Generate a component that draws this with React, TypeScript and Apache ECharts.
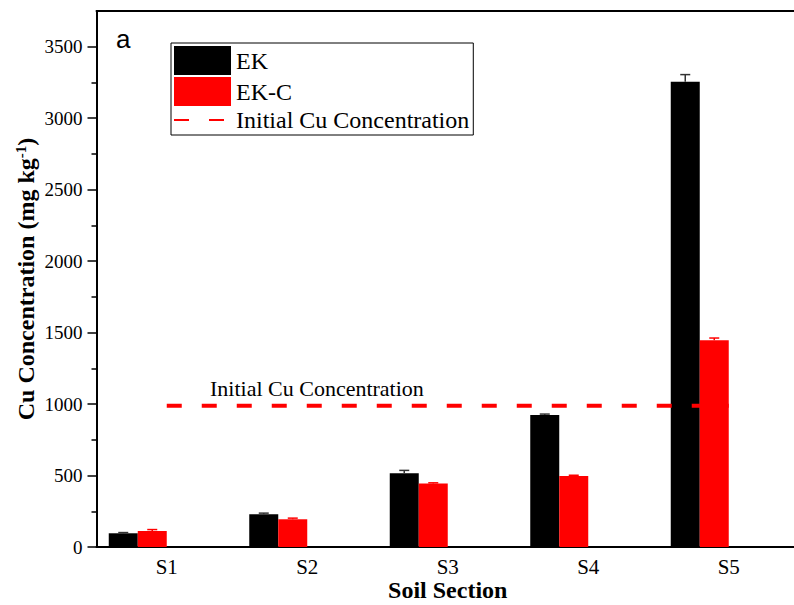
import React, { useEffect, useRef } from 'react';
import * as echarts from 'echarts';

const categories = ['S1', 'S2', 'S3', 'S4', 'S5'];
const ekValues = [96, 229, 516, 924, 3255];
const ekErrors = [5, 8, 20, 6, 50];
const ekcValues = [112, 194, 444, 497, 1447];
const ekcErrors = [10, 8, 5, 5, 15];
const initialConc = [988, 988, 988, 988, 988];
const yMaxFrame = 3750;
const yMaxTicks = 3500;
const yInterval = 500;

const BAR_W = 29;
const SERIF = '"Liberation Serif", "Times New Roman", serif';

function errorSeries(name: string, values: number[], errors: number[], offsetMul: number, color: string) {
  return {
    type: 'custom',
    name,
    silent: true,
    z: 3,
    xAxisIndex: 0,
    yAxisIndex: 0,
    encode: { x: 0, y: 1 },
    renderItem: (params: any, api: any) => {
      const idx = api.value(0);
      const val = api.value(1);
      const err = api.value(2);
      const top = api.coord([idx, val + err]);
      const base = api.coord([idx, val]);
      const x = top[0] + offsetMul * BAR_W;
      return {
        type: 'group',
        children: [
          { type: 'line', shape: { x1: x, y1: base[1], x2: x, y2: top[1] }, style: { stroke: color, lineWidth: 1.5 } },
          { type: 'line', shape: { x1: x - 5, y1: top[1], x2: x + 5, y2: top[1] }, style: { stroke: color, lineWidth: 1.5 } },
        ],
      };
    },
    data: values.map((v, i) => [i, v, errors[i]]),
  };
}

export default function App() {
  const ref = useRef<HTMLDivElement>(null);
  useEffect(() => {
    document.body.style.margin = '0';
    const chart = echarts.init(ref.current!, null, { renderer: 'svg' });
    const gridBottom = 58;
    const gridTop = 11;
    const plotH = 605 - gridTop - gridBottom;
    const tickGridTop = gridTop + plotH * (1 - yMaxTicks / yMaxFrame);
    const option: any = {
      animation: false,
      grid: [
        { left: 96.5, right: -5, top: gridTop, bottom: gridBottom, containLabel: false, outerBoundsMode: 'none' },
        { left: 96.5, right: -5, top: tickGridTop, bottom: gridBottom, containLabel: false, outerBoundsMode: 'none' },
      ],
      legend: {
        orient: 'vertical',
        left: 171,
        top: 43,
        padding: [3, 4, 3, 2],
        itemGap: 2,
        itemWidth: 57,
        itemHeight: 29,
        borderColor: '#000',
        borderWidth: 1,
        selectedMode: false,
        textStyle: { fontSize: 24, fontFamily: SERIF, color: '#000' },
        data: [
          { name: 'EK', icon: 'rect' },
          { name: 'EK-C', icon: 'rect' },
          { name: 'Initial Cu Concentration', itemStyle: { opacity: 0, color: 'transparent', borderWidth: 0 } },
        ],
      },
      xAxis: [
        {
          type: 'category',
          gridIndex: 0,
          data: categories,
          position: 'bottom',
          axisLine: { lineStyle: { color: '#000', width: 2 } },
          axisTick: { length: 5, lineStyle: { color: '#000', width: 1.5 } },
          axisLabel: { color: '#000', fontSize: 21, fontFamily: SERIF, margin: 9 },
          name: 'Soil Section',
          nameLocation: 'middle',
          nameGap: 31,
          nameMoveOverlap: false,
          nameTextStyle: { fontSize: 24, lineHeight: 24, fontWeight: 'bold', fontFamily: SERIF, color: '#000' },
        },
        {
          type: 'category',
          gridIndex: 0,
          data: categories,
          position: 'top',
          axisLine: { lineStyle: { color: '#000', width: 2 } },
          axisTick: { show: false },
          axisLabel: { show: false },
        },
        {
          type: 'category',
          gridIndex: 1,
          data: categories,
          show: false,
        },
      ],
      yAxis: [
        {
          type: 'value',
          gridIndex: 0,
          min: 0,
          max: yMaxFrame,
          axisLine: { show: true, lineStyle: { color: '#000', width: 2 } },
          axisTick: { show: false },
          axisLabel: { show: false },
          splitLine: { show: false },
          name: 'Cu Concentration (mg kg{sup|-1})',
          nameLocation: 'middle',
          nameGap: 59,
          nameTextStyle: {
            fontSize: 24,
            fontWeight: 'bold',
            fontFamily: SERIF,
            color: '#000',
            rich: {
              sup: { fontSize: 15, fontWeight: 'bold', fontFamily: SERIF, color: '#000', verticalAlign: 'top' },
            },
          },
        },
        {
          type: 'value',
          gridIndex: 1,
          min: 0,
          max: yMaxTicks,
          interval: yInterval,
          axisLine: { show: true, lineStyle: { color: '#000', width: 2 } },
          axisTick: { show: true, length: 9, lineStyle: { color: '#000', width: 1.5 } },
          minorTick: { show: true, splitNumber: 2, length: 5, lineStyle: { color: '#000', width: 1.5 } },
          axisLabel: { color: '#000', fontSize: 19, fontFamily: SERIF, margin: 14, formatter: (v: number) => String(v) },
          splitLine: { show: false },
        },
      ],
      graphic: [
        {
          type: 'text',
          x: 210,
          y: 388,
          style: { text: 'Initial Cu Concentration', font: `22px ${SERIF}`, fill: '#000', verticalAlign: 'middle' },
        },
        {
          type: 'text',
          x: 116,
          y: 39,
          style: { text: 'a', font: '26px "Liberation Sans", Arial, sans-serif', fill: '#000', verticalAlign: 'middle' },
        },
      ],
      series: [
        { name: 'EK', type: 'bar', xAxisIndex: 0, yAxisIndex: 0, data: ekValues, barWidth: BAR_W, barGap: '0%', itemStyle: { color: '#000000' } },
        { name: 'EK-C', type: 'bar', xAxisIndex: 0, yAxisIndex: 0, data: ekcValues, barWidth: BAR_W, barGap: '0%', itemStyle: { color: '#ff0000' } },
        { name: 'pad1', type: 'bar', xAxisIndex: 0, yAxisIndex: 0, data: [], barWidth: BAR_W, barGap: '0%', silent: true },
        { name: 'pad2', type: 'bar', xAxisIndex: 0, yAxisIndex: 0, data: [], barWidth: BAR_W, barGap: '0%', silent: true },
        errorSeries('EK error', ekValues, ekErrors, -1.5, '#333'),
        errorSeries('EK-C error', ekcValues, ekcErrors, -0.5, '#ff0000'),
        {
          name: 'Initial Cu Concentration',
          type: 'line',
          xAxisIndex: 0,
          yAxisIndex: 0,
          data: initialConc,
          symbol: 'none',
          z: 4,
          lineStyle: { color: '#ff0000', width: 4, type: [15, 20] },
          itemStyle: { color: '#ff0000' },
        },
      ],
    };
    chart.setOption(option);
    return () => chart.dispose();
  }, []);
  return <div ref={ref} style={{ width: 794, height: 605 }} />;
}
